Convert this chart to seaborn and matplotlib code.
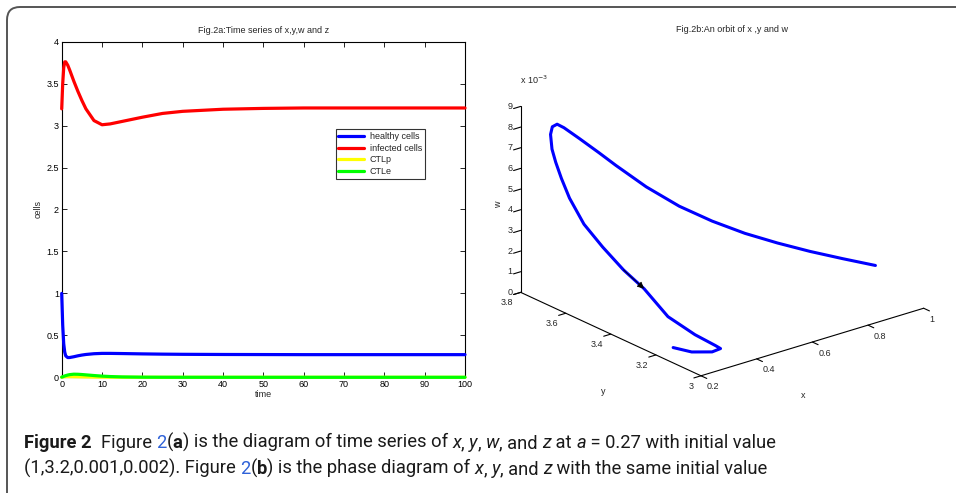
import numpy as np
import pandas as pd
import matplotlib
matplotlib.use("Agg")
import matplotlib.pyplot as plt
import seaborn as sns
from matplotlib.patches import FancyBboxPatch, FancyArrowPatch
from matplotlib.transforms import IdentityTransform
from matplotlib import font_manager
from mpl_toolkits.mplot3d import proj3d

# ─── Theme ───────────────────────────────────────────────────────
sns.set_style("ticks")
plt.rcParams.update({
    "figure.facecolor": "white",
    "axes.facecolor":   "white",
    "axes.linewidth":   0.8,
    "axes.edgecolor":   "black",
    "xtick.color":      "black",
    "ytick.color":      "black",
})
plt.rcParams["font.family"] = ["Liberation Sans", "DejaVu Sans"]

installed = {f.name for f in font_manager.fontManager.ttflist}
CAP_FONT = "Liberation Sans Narrow" if "Liberation Sans Narrow" in installed else "Roboto"
CAP_FS = 14.5 if CAP_FONT == "Liberation Sans Narrow" else 13.2

W, H = 956, 493

# ─── Data: Fig.2a time series ────────────────────────────────────
t = [0, 0.25, 0.5, 0.75, 1, 1.5, 2, 3, 4, 5, 6, 8, 10, 12, 15, 20, 25, 30,
     40, 50, 60, 70, 80, 90, 100]
healthy = [1.0, 0.62, 0.40, 0.30, 0.255, 0.235, 0.236, 0.245, 0.256, 0.265,
           0.272, 0.281, 0.285, 0.285, 0.283, 0.279, 0.276, 0.274, 0.272,
           0.271, 0.27, 0.27, 0.27, 0.27, 0.27]
infected = [3.20, 3.50, 3.69, 3.76, 3.76, 3.72, 3.66, 3.53, 3.41, 3.30, 3.20,
            3.06, 3.01, 3.02, 3.05, 3.10, 3.145, 3.17, 3.195, 3.205, 3.21,
            3.21, 3.21, 3.21, 3.21]
ctlp = [0.001, 0.003, 0.0052, 0.0068, 0.0076, 0.0081, 0.0079, 0.007, 0.006,
        0.005, 0.0042, 0.0028, 0.0018, 0.0012, 0.0007, 0.0003, 0.00015,
        0.0001, 0.00003, 0.00001, 0, 0, 0, 0, 0]
ctle = [0.002, 0.006, 0.011, 0.016, 0.02, 0.027, 0.032, 0.037, 0.036, 0.033,
        0.029, 0.021, 0.014, 0.009, 0.0045, 0.0015, 0.0006, 0.0003, 0.0001,
        0, 0, 0, 0, 0, 0]

# ─── Data: Fig.2b orbit (w in units of 1e-3) ─────────────────────
orbit_x = [1.0, 0.9, 0.8, 0.7, 0.6, 0.5, 0.42, 0.35, 0.31, 0.29, 0.27, 0.255,
           0.245, 0.24, 0.238, 0.238, 0.24, 0.242, 0.245, 0.25, 0.255, 0.26,
           0.265, 0.27, 0.275, 0.28, 0.28, 0.278, 0.275, 0.27]
orbit_y = [3.214, 3.235, 3.257, 3.278, 3.299, 3.321, 3.368, 3.428, 3.513,
           3.563, 3.627, 3.676, 3.694, 3.709, 3.7145, 3.708, 3.694, 3.671,
           3.639, 3.581, 3.504, 3.418, 3.333, 3.233, 3.119, 3.035, 3.012,
           3.047, 3.134, 3.21]
orbit_w = [0.99, 1.62, 2.27, 2.98, 3.75, 4.64, 5.45, 6.37, 7.14, 7.58, 8.04,
           8.37, 8.49, 8.31, 7.92, 7.24, 6.67, 5.99, 5.19, 4.20, 3.46, 2.77,
           2.27, 1.40, 1.08, 0.96, 0.93, 0.60, 0.17, 0.02]
ARROW_AT = 22

x_ticks = [0.2, 0.4, 0.6, 0.8, 1.0]
x_labels = ["0.2", "0.4", "0.6", "0.8", "1"]
y_ticks = [3.0, 3.2, 3.4, 3.6, 3.8]
y_labels = ["3", "3.2", "3.4", "3.6", "3.8"]
z_ticks = list(range(10))
z_labels = [str(v) for v in z_ticks]

series = [("healthy cells", healthy, "#0000ff"),
          ("infected cells", infected, "#ff0000"),
          ("CTLp", ctlp, "#ffff00"),
          ("CTLe", ctle, "#00ff00")]

fig = plt.figure(figsize=(W / 100, H / 100), dpi=100)

def fx(px):
    return px / W

def fy(py):
    return 1 - py / H

# ─── Fig.2a ──────────────────────────────────────────────────────
ax = fig.add_axes([fx(61.7), fy(377.3), fx(465) - fx(61.7), fy(41.7) - fy(377.3)])
for name, vals, col in series:
    sns.lineplot(x=t, y=vals, ax=ax, color=col, linewidth=2.3, label=name,
                 zorder=3, clip_on=False)
ax.set_xlim(0, 100)
ax.set_ylim(0, 4)
ax.set_xticks(range(0, 101, 10))
ax.set_yticks(np.arange(0, 4.01, 0.5))
ax.set_yticklabels(["0", "0.5", "1", "1.5", "2", "2.5", "3", "3.5", "4"])
ax.tick_params(direction="in", length=3.5, width=0.6, top=True, right=True,
               labelsize=6.5, pad=2)
for s in ax.spines.values():
    s.set_visible(True)
    s.set_linewidth(0.8)
ax.set_title("Fig.2a:Time series of x,y,w and z", fontsize=6.5, pad=6)
ax.set_xlabel("time", fontsize=6.5, labelpad=1)
ax.set_ylabel("cells", fontsize=6.5, labelpad=3)
leg = ax.legend(loc="upper left", bbox_to_anchor=(fx(335.7), fy(129.3)),
                bbox_transform=fig.transFigure, fontsize=6.5, frameon=True,
                fancybox=False, edgecolor="black", borderaxespad=0,
                handlelength=2.8, handletextpad=0.65, labelspacing=0.3,
                borderpad=0.3)
leg.get_frame().set_linewidth(0.8)
for ln in leg.get_lines():
    ln.set_linewidth(2.3)

# ─── Fig.2b ──────────────────────────────────────────────────────
S = 420
cx, cy = 716.5, 213
ax3 = fig.add_axes([fx(cx - S / 2), fy(cy + S / 2), S / W, S / H], projection="3d")
ax3.set_proj_type("ortho")
ax3.view_init(elev=22, azim=-129)
ax3.set_box_aspect((1, 1, 0.7), zoom=1.045)
ax3.plot(orbit_x, orbit_y, orbit_w, color="#0000ff", linewidth=2.2,
         solid_joinstyle="round")
ax3.set_xlim(0.2, 1)
ax3.set_ylim(3, 3.8)
ax3.set_zlim(0, 9)
ax3.set_xticks(x_ticks)
ax3.set_yticks(y_ticks)
ax3.set_zticks(z_ticks)
ax3.set_xticklabels([])
ax3.set_yticklabels([])
ax3.set_zticklabels([])
ax3.grid(False)
for axis in (ax3.xaxis, ax3.yaxis, ax3.zaxis):
    axis.set_pane_color((1, 1, 1, 0))
    axis.pane.set_edgecolor((1, 1, 1, 0))
    axis.line.set_color("black")
    axis.line.set_linewidth(0.8)
    axis._axinfo["tick"]["inward_factor"] = 0.4
    axis._axinfo["tick"]["outward_factor"] = 0.0
ax3.tick_params(width=0.6)
fig.text(fx(732), fy(30), "Fig.2b:An orbit of x ,y and w", fontsize=6.5,
         ha="center", va="center")
fig.text(fx(520), fy(80), r"x 10$^{-3}$", fontsize=6.5, ha="left", va="center")
fig.text(fx(499), fy(205), "w", fontsize=6.5, rotation=90, ha="center", va="center")
fig.text(fx(603), fy(392), "y", fontsize=6.5, ha="center", va="center")
fig.text(fx(803), fy(396), "x", fontsize=6.5, ha="center", va="center")

fig.canvas.draw()
M = ax3.get_proj()

def to_px(x, y, z):
    xs, ys, _ = proj3d.proj_transform(x, y, z, M)
    return ax3.transData.transform((xs, ys))

# tick labels, placed the way MATLAB does it
for v, lab in zip(x_ticks, x_labels):
    px, py = to_px(v, 3.0, 0)
    fig.text(px + 6, py - 11, lab, fontsize=6.5, ha="left", va="center",
             transform=IdentityTransform())
for v, lab in zip(y_ticks, y_labels):
    px, py = to_px(0.2, v, 0)
    fig.text(px - 7.5, py - 10.5, lab, fontsize=6.5, ha="right", va="center",
             transform=IdentityTransform())
for v, lab in zip(z_ticks, z_labels):
    px, py = to_px(0.2, 3.8, v)
    fig.text(px - 8, py, lab, fontsize=6.5, ha="right", va="center",
             transform=IdentityTransform())

# arrow on the orbit
i = ARROW_AT
pa = to_px(orbit_x[i], orbit_y[i], orbit_w[i])
pb = to_px(orbit_x[i - 1], orbit_y[i - 1], orbit_w[i - 1])
fig.add_artist(FancyArrowPatch(
    pb, pa, transform=IdentityTransform(), arrowstyle="-|>", mutation_scale=10,
    color="black", linewidth=0.6, shrinkA=0, shrinkB=0))

# ─── Frame and caption ───────────────────────────────────────────
frame = FancyBboxPatch((7, -20), 1000, H - 7 + 20, boxstyle="round,pad=0,rounding_size=13",
                       transform=IdentityTransform(), facecolor="none",
                       edgecolor="#555555", linewidth=1.4)
fig.add_artist(frame)

line1 = [("Figure 2", "b"), ("  Figure ", "n"), ("2", "link"), ("(", "n"),
         ("a", "b"), (") is the diagram of time series of ", "n"), ("x", "i"),
         (", ", "n"), ("y", "i"), (", ", "n"), ("w", "i"), (", and ", "n"),
         ("z", "i"), (" at ", "n"), ("a", "i"), (" = 0.27 with initial value", "n")]
line2 = [("(1,3.2,0.001,0.002). Figure ", "n"), ("2", "link"), ("(", "n"),
         ("b", "b"), (") is the phase diagram of ", "n"), ("x", "i"), (", ", "n"),
         ("y", "i"), (", and ", "n"), ("z", "i"), (" with the same initial value", "n")]

renderer = fig.canvas.get_renderer()

def draw_caption(pieces, x0, y0):
    x = x0
    for s, style in pieces:
        kw = dict(fontsize=CAP_FS, family=CAP_FONT, color="#1a1a1a")
        if style == "b":
            kw["fontweight"] = "bold"
        elif style == "i":
            kw["fontstyle"] = "italic"
        elif style == "link":
            kw["color"] = "#2f62d8"
        txt = fig.text(x, y0, s, transform=IdentityTransform(), ha="left",
                       va="baseline", **kw)
        x = txt.get_window_extent(renderer).x1

draw_caption(line1, 24, H - 448)
draw_caption(line2, 24, H - 474)

fig.savefig("out.png", dpi=100)
